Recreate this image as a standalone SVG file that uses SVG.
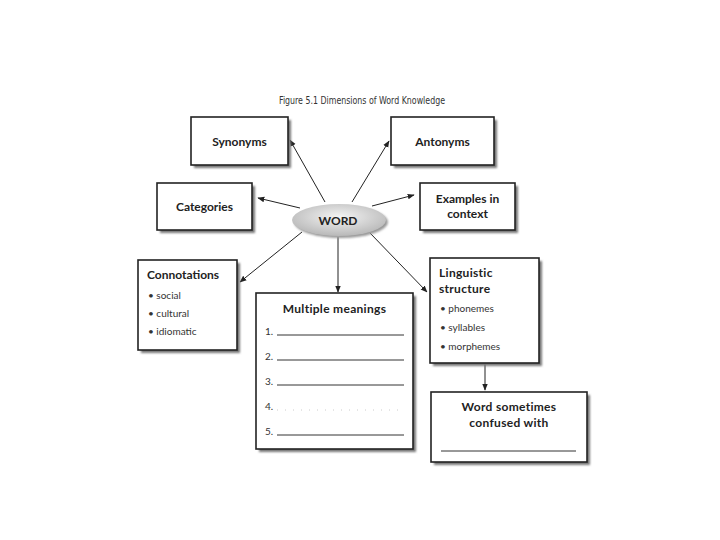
<svg xmlns="http://www.w3.org/2000/svg" width="720" height="540" viewBox="0 0 720 540">
<defs>
<radialGradient id="wg" cx="50%" cy="40%" r="60%">
<stop offset="0" stop-color="#f4f4f4"/>
<stop offset="1" stop-color="#b8b8b8"/>
</radialGradient>
<marker id="ah" viewBox="0 0 10 10" refX="9" refY="5" markerWidth="7" markerHeight="7" orient="auto-start-reverse" markerUnits="userSpaceOnUse">
<path d="M0,1 L10,5 L0,9 Z" fill="#222"/>
</marker>
<filter id="sh" x="-10%" y="-10%" width="130%" height="130%">
<feGaussianBlur stdDeviation="1.2"/>
</filter>
</defs>
<style>
.box{fill:#fff;stroke:#222;stroke-width:1.6}
.shd{fill:#777;filter:url(#sh)}
.hd{font-family:Lato,"Open Sans","DejaVu Sans",sans-serif;font-weight:bold;font-size:12px;fill:#222}
.it{font-family:Lato,"Liberation Sans",sans-serif;font-size:10px;fill:#333}
.ln{stroke:#333;stroke-width:1}
.con{stroke:#222;stroke-width:1;fill:none;marker-end:url(#ah)}
</style>
<rect width="720" height="540" fill="#fff"/>
<text x="362" y="104" text-anchor="middle" font-family="'DejaVu Sans Condensed','Liberation Sans Narrow',Lato,sans-serif" font-size="10" fill="#333" textLength="166" lengthAdjust="spacingAndGlyphs">Figure 5.1  Dimensions of Word Knowledge</text>

<g id="connectors">
<line class="con" x1="325" y1="202" x2="290" y2="140"/>
<line class="con" x1="352" y1="202" x2="389" y2="141"/>
<line class="con" x1="300" y1="208" x2="258" y2="198"/>
<line class="con" x1="372" y1="206" x2="414" y2="195"/>
<line class="con" x1="302" y1="232" x2="240" y2="282"/>
<line class="con" x1="338" y1="237" x2="338" y2="292"/>
<line class="con" x1="370" y1="233" x2="427" y2="292"/>
<line class="con" x1="485" y1="364" x2="485" y2="390"/>
</g>

<g id="synonyms">
<rect class="shd" x="194" y="120" width="97" height="48"/>
<rect class="box" x="191" y="117" width="97" height="48"/>
<text class="hd" x="239.5" y="146" text-anchor="middle">Synonyms</text>
</g>

<g id="antonyms">
<rect class="shd" x="394" y="120" width="103" height="48"/>
<rect class="box" x="391" y="117" width="103" height="48"/>
<text class="hd" x="442.5" y="146" text-anchor="middle">Antonyms</text>
</g>

<g id="categories">
<rect class="shd" x="160" y="186" width="95" height="47"/>
<rect class="box" x="157" y="183" width="95" height="47"/>
<text class="hd" x="204.5" y="211" text-anchor="middle">Categories</text>
</g>

<g id="examples">
<rect class="shd" x="423" y="186" width="95" height="47"/>
<rect class="box" x="420" y="183" width="95" height="47"/>
<text class="hd" x="467.5" y="203" text-anchor="middle">Examples in</text>
<text class="hd" x="467.5" y="218" text-anchor="middle">context</text>
</g>

<g id="word">
<ellipse cx="341" cy="222" rx="47" ry="16" fill="#999" filter="url(#sh)"/>
<ellipse cx="339" cy="220" rx="47" ry="16" fill="url(#wg)"/>
<text class="hd" x="338" y="224.5" text-anchor="middle">WORD</text>
</g>

<g id="connotations">
<rect class="shd" x="141" y="263" width="99" height="90"/>
<rect class="box" x="138" y="260" width="99" height="90"/>
<text class="hd" x="147" y="279">Connotations</text>
<text class="it" x="148" y="299">•  social</text>
<text class="it" x="148" y="317">•  cultural</text>
<text class="it" x="148" y="335">•  idiomatic</text>
</g>

<g id="multiple">
<rect class="shd" x="259" y="296" width="157" height="156"/>
<rect class="box" x="256" y="293" width="157" height="156"/>
<text class="hd" x="334.5" y="313" text-anchor="middle" letter-spacing="0.3">Multiple meanings</text>
<text class="it" x="265" y="335">1.</text>
<line class="ln" x1="277" y1="335" x2="404" y2="335"/>
<text class="it" x="265" y="360">2.</text>
<line class="ln" x1="277" y1="360" x2="404" y2="360"/>
<text class="it" x="265" y="385">3.</text>
<line class="ln" x1="277" y1="385" x2="404" y2="385"/>
<text class="it" x="265" y="410">4.</text>
<line x1="277" y1="410" x2="404" y2="410" stroke="#ccc" stroke-width="1" stroke-dasharray="1 7"/>
<text class="it" x="265" y="435">5.</text>
<line class="ln" x1="277" y1="435" x2="404" y2="435"/>
</g>

<g id="linguistic">
<rect class="shd" x="433" y="261" width="109" height="105"/>
<rect class="box" x="430" y="258" width="109" height="105"/>
<text class="hd" x="439" y="277" letter-spacing="0.3">Linguistic</text>
<text class="hd" x="439" y="293" letter-spacing="0.3">structure</text>
<text class="it" x="440" y="312">•  phonemes</text>
<text class="it" x="440" y="331">•  syllables</text>
<text class="it" x="440" y="350">•  morphemes</text>
</g>

<g id="confused">
<rect class="shd" x="434" y="395" width="156" height="70"/>
<rect class="box" x="431" y="392" width="156" height="70"/>
<text class="hd" x="509" y="411" text-anchor="middle" font-size="11.5" letter-spacing="0.3">Word sometimes</text>
<text class="hd" x="509" y="427" text-anchor="middle" font-size="11.5" letter-spacing="0.3">confused with</text>
<line class="ln" x1="441" y1="451" x2="576" y2="451"/>
</g>
</svg>
